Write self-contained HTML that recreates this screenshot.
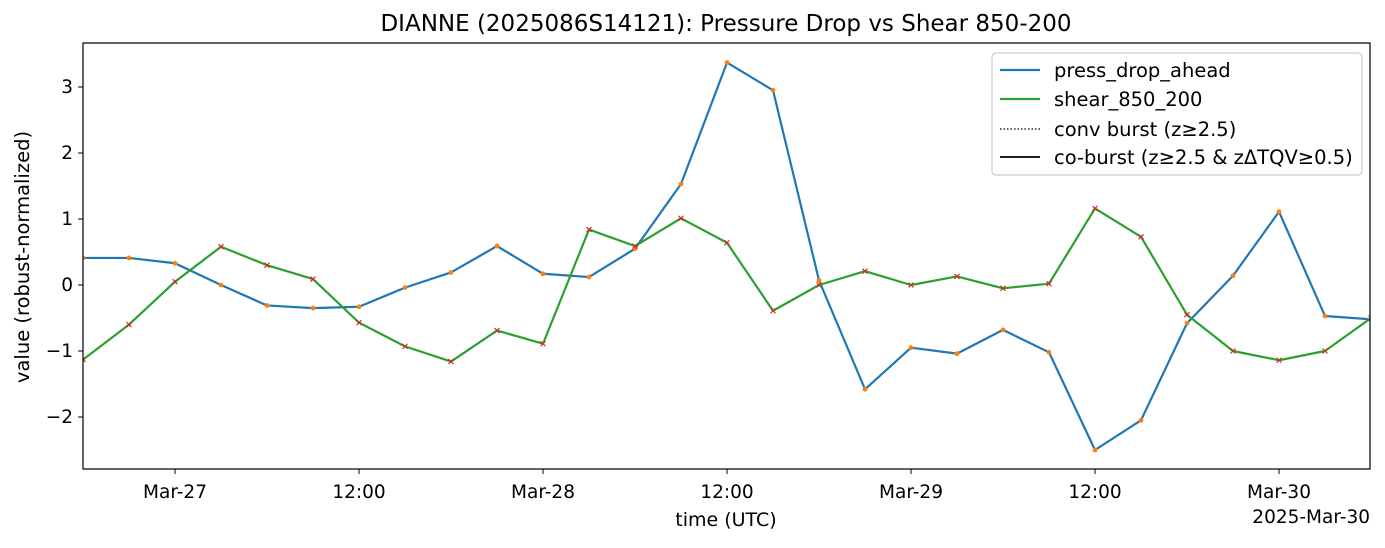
<!DOCTYPE html>
<html><head><meta charset="utf-8"><style>
body{margin:0;background:#fff}
svg text{font-family:"DejaVu Sans","Liberation Sans",sans-serif;fill:#000}
</style></head><body>
<svg id="s" width="1385" height="543" xmlns="http://www.w3.org/2000/svg">
<rect width="1385" height="543" fill="#fff"/>
<text x="726" y="31" font-size="23" text-anchor="middle">DIANNE (2025086S14121): Pressure Drop vs Shear 850-200</text>
<g id="plot"></g>
<rect x="83" y="43" width="1287" height="426" fill="none" stroke="#000" stroke-width="1.2"/>
<g id="ax" font-size="18.5"></g>
<text x="726" y="526" font-size="19" text-anchor="middle">time (UTC)</text>
<text x="1370" y="523" font-size="18.5" text-anchor="end">2025-Mar-30</text>
<text transform="translate(29,257) rotate(-90)" font-size="19.5" text-anchor="middle">value (robust-normalized)</text>
<rect x="992" y="53" width="370" height="122" rx="4" fill="#fff" stroke="#ccc" stroke-width="1.2"/>
<line x1="1000" y1="70" x2="1040" y2="70" stroke="#1f77b4" stroke-width="2.2"/>
<text x="1054" y="77" font-size="19.5">press_drop_ahead</text>
<line x1="1000" y1="99" x2="1040" y2="99" stroke="#2ca02c" stroke-width="2.2"/>
<text x="1054" y="106" font-size="19.5">shear_850_200</text>
<line x1="1000" y1="129" x2="1040" y2="129" stroke="#000" stroke-width="1.3" stroke-dasharray="1.5,2"/>
<text x="1054" y="136" font-size="19.5">conv burst (z≥2.5)</text>
<line x1="1000" y1="157" x2="1040" y2="157" stroke="#000" stroke-width="1.8"/>
<text x="1054" y="164" font-size="19.5">co-burst (z≥2.5 &amp; zΔTQV≥0.5)</text>
</svg>
<script>
var NS="http://www.w3.org/2000/svg";
function el(p,n,a,t){var e=document.createElementNS(NS,n);for(var k in a)e.setAttribute(k,a[k]);if(t)e.textContent=t;p.appendChild(e);return e;}
var blue=[0.41,0.41,0.33,0.0,-0.31,-0.35,-0.33,-0.04,0.19,0.59,0.17,0.12,0.55,1.53,3.37,2.95,0.07,-1.58,-0.95,-1.04,-0.68,-1.02,-2.5,-2.05,-0.58,0.14,1.11,-0.47,-0.52];
var green=[-1.13,-0.6,0.05,0.58,0.3,0.09,-0.57,-0.93,-1.16,-0.69,-0.89,0.84,0.59,1.01,0.64,-0.39,0.0,0.21,0.0,0.13,-0.05,0.02,1.16,0.73,-0.45,-1.0,-1.14,-1.0,-0.5];
function X(i){return 83+i*46}function Y(v){return 285-66*v}
var plot=document.getElementById("plot");
var clip=el(plot,"clipPath",{id:"c"});el(clip,"rect",{x:83,y:43,width:1287,height:426});
var g=el(plot,"g",{"clip-path":"url(#c)"});
function line(d,c){el(g,"polyline",{points:d.map(function(v,i){return X(i)+","+Y(v)}).join(" "),fill:"none",stroke:c,"stroke-width":2.2,"stroke-linejoin":"round"});}
line(blue,"#1f77b4");line(green,"#2ca02c");
blue.forEach(function(v,i){el(g,"circle",{cx:X(i),cy:Y(v),r:2.4,fill:"#ff7f0e"});});
green.forEach(function(v,i){var x=X(i),y=Y(v);el(g,"path",{d:"M"+(x-2.5)+","+(y-2.5)+"L"+(x+2.5)+","+(y+2.5)+"M"+(x-2.5)+","+(y+2.5)+"L"+(x+2.5)+","+(y-2.5),stroke:"#d62728","stroke-width":1.2});});
var ax=document.getElementById("ax");
[3,2,1,0,-1,-2].forEach(function(v){var y=Y(v);el(ax,"line",{x1:78,y1:y,x2:83,y2:y,stroke:"#000"});el(ax,"text",{x:73,y:y+6,"text-anchor":"end"},(v<0?"\u2212":"")+Math.abs(v));});
["Mar-27","12:00","Mar-28","12:00","Mar-29","12:00","Mar-30"].forEach(function(t,i){var x=175+i*184;el(ax,"line",{x1:x,y1:469,x2:x,y2:474,stroke:"#000"});el(ax,"text",{x:x,y:498,"text-anchor":"middle"},t);});
</script>
</body></html>
